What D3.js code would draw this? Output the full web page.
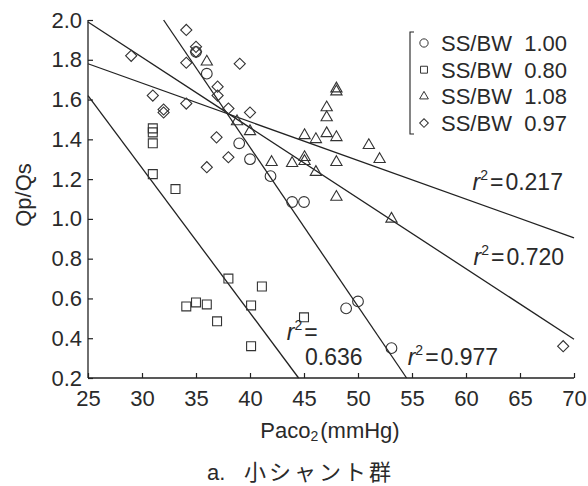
<!DOCTYPE html>
<html>
<head>
<meta charset="utf-8">
<script src="https://cdn.jsdelivr.net/npm/d3@7.9.0/dist/d3.min.js"></script>
<style>
  body { margin: 0; background: #fff; }
  svg text { font-family: "Liberation Sans", Arial, sans-serif; fill: #2a2a2a; }
</style>
</head>
<body>
<svg id="chart" width="588" height="486"></svg>
<script>
// values: [PaCO2, Qp/Qs]
const circles = [[35.0, 1.84], [36.0, 1.73], [39.0, 1.38], [40.0, 1.30], [41.9, 1.215],
  [43.9, 1.085], [45.0, 1.085], [48.9, 0.55], [50.0, 0.585], [53.1, 0.35]];
const squares = [[31.0, 1.455], [31.0, 1.435], [31.0, 1.38], [31.0, 1.225], [33.1, 1.15],
  [34.1, 0.56], [35.0, 0.58], [36.0, 0.57], [36.95, 0.485], [38.0, 0.70], [40.1, 0.565],
  [40.1, 0.36], [41.1, 0.66], [45.0, 0.505]];
const triangles = [[36.0, 1.79], [38.8, 1.49], [40.0, 1.44], [42.0, 1.285], [43.9, 1.28],
  [45.05, 1.31], [45.05, 1.29], [45.05, 1.42], [46.1, 1.40], [46.1, 1.235], [47.1, 1.56],
  [47.1, 1.51], [47.1, 1.43], [48.0, 1.655], [48.0, 1.64], [48.0, 1.41], [48.0, 1.285],
  [48.0, 1.11], [51.0, 1.37], [52.0, 1.30], [53.1, 1.00]];
const diamonds = [[29.0, 1.82], [31.0, 1.62], [32.0, 1.55], [32.0, 1.535], [34.1, 1.95],
  [34.1, 1.785], [34.1, 1.58], [35.0, 1.865], [35.0, 1.84], [36.0, 1.26], [37.0, 1.665],
  [37.0, 1.62], [36.9, 1.41], [38.0, 1.555], [38.0, 1.31], [39.05, 1.78], [40.0, 1.535],
  [69.0, 0.36]];

// regression lines: [x1, y1, x2, y2]
const fitLines = [[32.0, 2.0, 54.5, 0.2], [25, 1.62, 44.5, 0.2], [25, 1.99, 70, 0.395], [25, 1.78, 70, 0.905]];
const rSquared = ['0.977', '0.636', '0.720', '0.217'];

const seriesNames = ['SS/BW', 'SS/BW', 'SS/BW', 'SS/BW'];
const seriesValues = ['1.00', '0.80', '1.08', '0.97'];
const xTicks = [25, 30, 35, 40, 45, 50, 55, 60, 65, 70];
const yTicks = [0.2, 0.4, 0.6, 0.8, 1.0, 1.2, 1.4, 1.6, 1.8, 2.0];

const svg = d3.select('#chart');
const x = d3.scaleLinear().domain([25, 70]).range([88, 574]);
const y = d3.scaleLinear().domain([0.2, 2.0]).range([378, 20]);
const ink = '#222';

// axes, ticks pointing inward
const xAxis = svg.append('g').attr('transform', `translate(0,${y(0.2)})`)
  .call(d3.axisBottom(x).tickValues(xTicks).tickSize(-5).tickPadding(12).tickFormat(d3.format('d')));
const yAxis = svg.append('g').attr('transform', `translate(${x(25)},0)`)
  .call(d3.axisLeft(y).tickValues(yTicks).tickSize(-5).tickPadding(6).tickFormat(d3.format('.1f')));
[xAxis, yAxis].forEach(g => {
  g.select('.domain').attr('stroke', ink).attr('stroke-width', 1.3);
  g.selectAll('.tick line').attr('stroke', ink).attr('stroke-width', 1.2);
  g.selectAll('.tick text').attr('fill', '#2a2a2a').style('font-size', '22px')
    .style('font-family', '"Liberation Sans", Arial, sans-serif');
});
yAxis.select('.domain').attr('d', `M0,${y(0.2)}V${y(2.0)}`);
xAxis.select('.domain').attr('d', `M${x(25)},0H${x(70)}`);

// fitted lines
svg.append('g').selectAll('line').data(fitLines).join('line')
  .attr('x1', d => x(d[0])).attr('y1', d => y(d[1]))
  .attr('x2', d => x(d[2])).attr('y2', d => y(d[3]))
  .attr('stroke', ink).attr('stroke-width', 1.3);

// markers
const shapes = [
  { data: circles, type: d3.symbolCircle, size: 90, rot: 0 },
  { data: squares, type: d3.symbolSquare, size: 80, rot: 0 },
  { data: triangles, type: d3.symbolTriangle, size: 55, rot: 0 },
  { data: diamonds, type: d3.symbolSquare, size: 62, rot: 45 }
];
shapes.forEach(s => {
  svg.append('g').selectAll('path').data(s.data).join('path')
    .attr('d', d3.symbol().type(s.type).size(s.size))
    .attr('transform', d => `translate(${x(d[0])},${y(d[1])}) rotate(${s.rot})`)
    .attr('fill', 'none').attr('stroke', '#333').attr('stroke-width', 1.1);
});

// legend
const lg = svg.append('g');
lg.append('path').attr('d', 'M414,32H410V134H414').attr('fill', 'none').attr('stroke', ink).attr('stroke-width', 1.1);
seriesValues.forEach((v, i) => {
  const cy = 43 + i * 26.7;
  lg.append('path')
    .attr('d', d3.symbol().type(shapes[i].type).size(shapes[i].size * 0.6))
    .attr('transform', `translate(424,${cy}) rotate(${shapes[i].rot})`)
    .attr('fill', 'none').attr('stroke', '#333').attr('stroke-width', 1);
  lg.append('text').attr('x', 441).attr('y', cy + 8).style('font-size', '22px').text(seriesNames[i]);
  lg.append('text').attr('x', 567).attr('y', cy + 8).attr('text-anchor', 'end').style('font-size', '22px').text(v);
});

// r-squared labels
function rLabel(px, py, value) {
  const t = svg.append('text').attr('x', px).attr('y', py).style('font-size', '23px');
  t.append('tspan').style('font-style', 'italic').text('r');
  t.append('tspan').attr('dy', -10).style('font-size', '14px').text('2');
  t.append('tspan').attr('dy', 10).attr('dx', 2).text('=');
  if (value) t.append('tspan').attr('dx', 2).text(value);
  return t;
}
rLabel(x(60.6), y(1.145), rSquared[3]);
rLabel(x(60.7), y(0.768), rSquared[2]);
rLabel(x(54.6), y(0.265), rSquared[0]);
rLabel(x(43.4), y(0.39), '');
svg.append('text').attr('x', x(45.1)).attr('y', y(0.265)).style('font-size', '23px').text(rSquared[1]);

// axis titles
svg.append('text').attr('transform', 'translate(31,195) rotate(-90)')
  .attr('text-anchor', 'middle').style('font-size', '22px').text('Qp/Qs');
const xt = svg.append('text').attr('x', 330).attr('y', 438).attr('text-anchor', 'middle').style('font-size', '22px');
xt.append('tspan').text('Paco');
xt.append('tspan').attr('dy', 3).style('font-size', '14px').text('2');
xt.append('tspan').attr('dy', -3).attr('dx', 2).text('(mmHg)');

svg.append('text').attr('x', 207).attr('y', 480).style('font-size', '22px').text('a.');
svg.append('text').attr('x', 244).attr('y', 480)
  .style('font-family', '"Noto Sans CJK JP", sans-serif').style('font-size', '22px')
  .style('letter-spacing', '3px').text('小シャント群');
</script>
</body>
</html>
